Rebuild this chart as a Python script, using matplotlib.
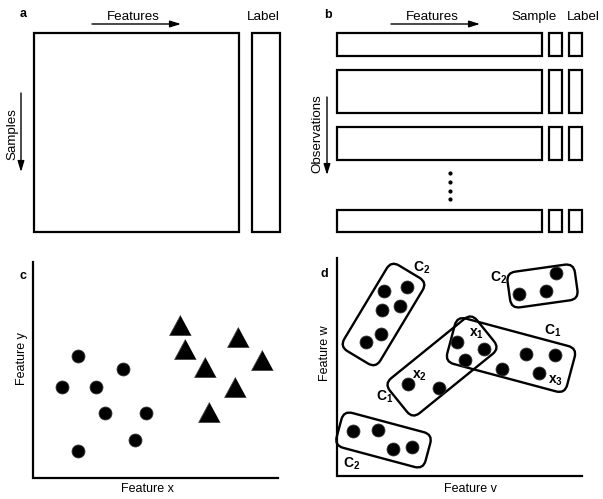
import numpy as np
import matplotlib.pyplot as plt
from matplotlib.patches import Rectangle, FancyBboxPatch
from matplotlib.transforms import Affine2D

plt.rcParams['font.family'] = 'Liberation Sans'
plt.rcParams['mathtext.fontset'] = 'custom'
plt.rcParams['mathtext.rm'] = 'Liberation Sans'
plt.rcParams['mathtext.bf'] = 'Liberation Sans:bold'

# panel b: rows of the observation table (top, bottom)
row_top = [32, 69, 126, 209]
row_bottom = [57, 114, 161, 233]
ellipsis_y = [173, 182, 191, 199]

# panel c: two classes
circle_x = [78, 123, 62, 96, 105, 146, 135, 78]
circle_y = [356, 369, 387, 387, 413, 413, 440, 451]
tri_x = [180, 185, 238, 262, 205, 235, 209]
tri_y = [325, 349, 337, 360, 367, 387, 412]

# panel d: points
dot_x = [384, 407, 382, 400, 381, 366,
         556, 519, 546,
         457, 484, 465,
         526, 555, 502, 539,
         408, 439,
         353, 378, 393, 412]
dot_y = [291, 287, 310, 306, 334, 342,
         273, 294, 291,
         342, 349, 360,
         354, 355, 369, 373,
         384, 388,
         431, 430, 449, 447]

# panel d: groups (centre x, centre y, length, width, angle)
group_cx = [383.5, 542.5, 442, 511, 383.5]
group_cy = [314.5, 286, 366, 355, 440]
group_w = [100, 68, 112, 124, 92]
group_h = [42, 36, 45, 47, 36]
group_ang = [59, 8, 39, -15, -15]

group_labels = [r'$\mathbf{C}_{\mathbf{2}}$', r'$\mathbf{C}_{\mathbf{2}}$',
                r'$\mathbf{x}_{\mathbf{1}}$', r'$\mathbf{C}_{\mathbf{1}}$',
                r'$\mathbf{x}_{\mathbf{3}}$', r'$\mathbf{x}_{\mathbf{2}}$',
                r'$\mathbf{C}_{\mathbf{1}}$', r'$\mathbf{C}_{\mathbf{2}}$']
label_x = [422, 499, 476, 553, 556, 419, 385, 352]
label_y = [268, 278, 334, 331, 381, 376, 397, 464]

fig = plt.figure(figsize=(6.03, 4.99), dpi=100)
ax = fig.add_axes([0, 0, 1, 1])
ax.set_xlim(0, 603)
ax.set_ylim(499, 0)
ax.axis('off')

LW = 1.6
FS = 9.6


def box(x0, y0, x1, y1):
    ax.add_patch(Rectangle((x0, y0), x1 - x0, y1 - y0, fill=False,
                           edgecolor='black', linewidth=LW))


def arrow(x0, y0, x1, y1):
    ax.annotate('', xy=(x1, y1), xytext=(x0, y0),
                arrowprops=dict(arrowstyle='-|>,head_length=0.65,head_width=0.2',
                                color='black', lw=1.0, mutation_scale=10,
                                shrinkA=0, shrinkB=0))


# a
ax.text(23, 14, 'a', fontsize=9, fontweight='bold', ha='center', va='center')
ax.text(133, 17, 'Features', fontsize=FS, ha='center', va='center')
arrow(92, 24, 181, 24)
ax.text(263, 17, 'Label', fontsize=FS, ha='center', va='center')
box(34, 33, 239, 232)
box(252, 33, 280, 232)
ax.text(12, 134, 'Samples', fontsize=FS, rotation=90, ha='center', va='center')
arrow(21, 93, 21, 172)

# b
ax.text(328, 15, 'b', fontsize=9, fontweight='bold', ha='center', va='center')
ax.text(432, 17, 'Features', fontsize=FS, ha='center', va='center')
arrow(391, 24, 480, 24)
ax.text(534, 17, 'Sample', fontsize=FS, ha='center', va='center')
ax.text(583, 17, 'Label', fontsize=FS, ha='center', va='center')
for t, b in zip(row_top, row_bottom):
    box(337, t + 1, 542, b - 1)
    box(549, t + 1, 562, b - 1)
    box(569, t + 1, 582, b - 1)
ax.plot([450] * len(ellipsis_y), ellipsis_y, 'o', color='black', ms=2)
ax.text(317, 134, 'Observations', fontsize=FS, rotation=90, ha='center', va='center')
arrow(327, 97, 327, 175)

# c
ax.plot([33, 33, 278], [262, 478, 478], color='black', lw=LW, solid_joinstyle='miter')
ax.text(23, 276, 'c', fontsize=9, fontweight='bold', ha='center', va='center')
ax.text(22, 359, 'Feature y', fontsize=9, rotation=90, ha='center', va='center')
ax.text(147, 489, 'Feature x', fontsize=9, ha='center', va='center')
ax.plot(circle_x, circle_y, 'o', color='black', ms=9.3, mec='#333333', mew=0.6)
tri = [(0, 1), (-1.08, -1), (1.08, -1)]
ax.plot(tri_x, tri_y, linestyle='None', marker=tri, color='black', ms=15.6,
        mec='#444444', mew=0.6)

# d
ax.plot([337, 337, 582], [258, 476, 476], color='black', lw=LW, solid_joinstyle='miter')
ax.text(324, 274, 'd', fontsize=9, fontweight='bold', ha='center', va='center')
ax.text(325, 353, 'Feature w', fontsize=9, rotation=90, ha='center', va='center')
ax.text(470, 489, 'Feature v', fontsize=9, ha='center', va='center')
for cx, cy, w, h, a in zip(group_cx, group_cy, group_w, group_h, group_ang):
    p = FancyBboxPatch((cx - w / 2, cy - h / 2), w, h,
                       boxstyle='round,pad=0,rounding_size=9',
                       fill=False, edgecolor='black', linewidth=1.7)
    p.set_transform(Affine2D().rotate_deg_around(cx, cy, -a) + ax.transData)
    ax.add_patch(p)
ax.plot(dot_x, dot_y, 'o', color='black', ms=9.3, mec='#333333', mew=0.6)
for s, x, y in zip(group_labels, label_x, label_y):
    ax.text(x, y, s, fontsize=10, ha='center', va='center')

fig.savefig('out.png', dpi=100)
